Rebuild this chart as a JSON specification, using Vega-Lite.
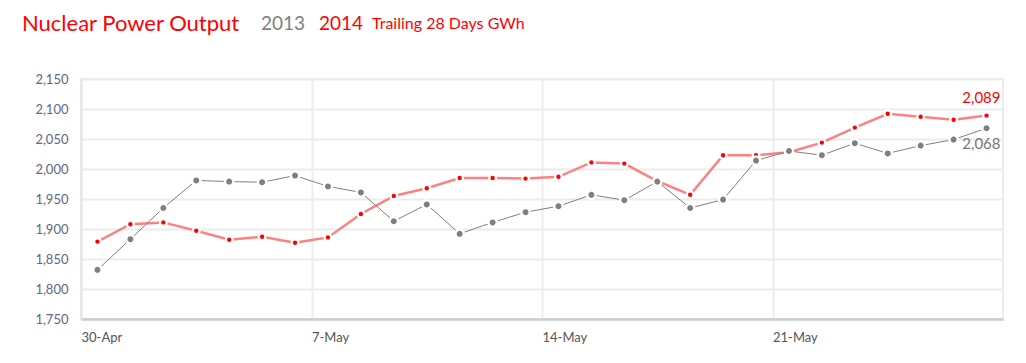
{
  "$schema": "https://vega.github.io/schema/vega-lite/v6.json",
  "autosize": {"type": "none"},
  "width": 922,
  "height": 240,
  "padding": {"left": 81, "top": 79, "right": 23, "bottom": 44},
  "background": "white",
  "title": {
    "text": "Nuclear Power Output",
    "anchor": "start",
    "frame": "group",
    "dx": -59,
    "offset": -22,
    "font": "Lato",
    "fontSize": 22,
    "fontWeight": "normal",
    "color": "#ff0000"
  },
  "config": {
    "view": {"stroke": "#ececec", "strokeWidth": 2},
    "font": "Lato"
  },
  "datasets": {
    "output": [
      {"date": "2014-04-30T12:00:00", "year": "2014", "value": 1879},
      {"date": "2014-05-01T12:00:00", "year": "2014", "value": 1908},
      {"date": "2014-05-02T12:00:00", "year": "2014", "value": 1911},
      {"date": "2014-05-03T12:00:00", "year": "2014", "value": 1897},
      {"date": "2014-05-04T12:00:00", "year": "2014", "value": 1882},
      {"date": "2014-05-05T12:00:00", "year": "2014", "value": 1887},
      {"date": "2014-05-06T12:00:00", "year": "2014", "value": 1877},
      {"date": "2014-05-07T12:00:00", "year": "2014", "value": 1886},
      {"date": "2014-05-08T12:00:00", "year": "2014", "value": 1925},
      {"date": "2014-05-09T12:00:00", "year": "2014", "value": 1955},
      {"date": "2014-05-10T12:00:00", "year": "2014", "value": 1968},
      {"date": "2014-05-11T12:00:00", "year": "2014", "value": 1985},
      {"date": "2014-05-12T12:00:00", "year": "2014", "value": 1985},
      {"date": "2014-05-13T12:00:00", "year": "2014", "value": 1984},
      {"date": "2014-05-14T12:00:00", "year": "2014", "value": 1987},
      {"date": "2014-05-15T12:00:00", "year": "2014", "value": 2011},
      {"date": "2014-05-16T12:00:00", "year": "2014", "value": 2009},
      {"date": "2014-05-17T12:00:00", "year": "2014", "value": 1980},
      {"date": "2014-05-18T12:00:00", "year": "2014", "value": 1957},
      {"date": "2014-05-19T12:00:00", "year": "2014", "value": 2023},
      {"date": "2014-05-20T12:00:00", "year": "2014", "value": 2023},
      {"date": "2014-05-21T12:00:00", "year": "2014", "value": 2028},
      {"date": "2014-05-22T12:00:00", "year": "2014", "value": 2044},
      {"date": "2014-05-23T12:00:00", "year": "2014", "value": 2069},
      {"date": "2014-05-24T12:00:00", "year": "2014", "value": 2092},
      {"date": "2014-05-25T12:00:00", "year": "2014", "value": 2087},
      {"date": "2014-05-26T12:00:00", "year": "2014", "value": 2082},
      {"date": "2014-05-27T12:00:00", "year": "2014", "value": 2089},
      {"date": "2014-04-30T12:00:00", "year": "2013", "value": 1832},
      {"date": "2014-05-01T12:00:00", "year": "2013", "value": 1883},
      {"date": "2014-05-02T12:00:00", "year": "2013", "value": 1935},
      {"date": "2014-05-03T12:00:00", "year": "2013", "value": 1981},
      {"date": "2014-05-04T12:00:00", "year": "2013", "value": 1979},
      {"date": "2014-05-05T12:00:00", "year": "2013", "value": 1978},
      {"date": "2014-05-06T12:00:00", "year": "2013", "value": 1989},
      {"date": "2014-05-07T12:00:00", "year": "2013", "value": 1971},
      {"date": "2014-05-08T12:00:00", "year": "2013", "value": 1961},
      {"date": "2014-05-09T12:00:00", "year": "2013", "value": 1913},
      {"date": "2014-05-10T12:00:00", "year": "2013", "value": 1941},
      {"date": "2014-05-11T12:00:00", "year": "2013", "value": 1892},
      {"date": "2014-05-12T12:00:00", "year": "2013", "value": 1911},
      {"date": "2014-05-13T12:00:00", "year": "2013", "value": 1928},
      {"date": "2014-05-14T12:00:00", "year": "2013", "value": 1938},
      {"date": "2014-05-15T12:00:00", "year": "2013", "value": 1957},
      {"date": "2014-05-16T12:00:00", "year": "2013", "value": 1948},
      {"date": "2014-05-17T12:00:00", "year": "2013", "value": 1979},
      {"date": "2014-05-18T12:00:00", "year": "2013", "value": 1935},
      {"date": "2014-05-19T12:00:00", "year": "2013", "value": 1949},
      {"date": "2014-05-20T12:00:00", "year": "2013", "value": 2014},
      {"date": "2014-05-21T12:00:00", "year": "2013", "value": 2030},
      {"date": "2014-05-22T12:00:00", "year": "2013", "value": 2023},
      {"date": "2014-05-23T12:00:00", "year": "2013", "value": 2043},
      {"date": "2014-05-24T12:00:00", "year": "2013", "value": 2026},
      {"date": "2014-05-25T12:00:00", "year": "2013", "value": 2039},
      {"date": "2014-05-26T12:00:00", "year": "2013", "value": 2049},
      {"date": "2014-05-27T12:00:00", "year": "2013", "value": 2068}
    ]
  },
  "data": {"name": "output"},
  "encoding": {
    "x": {
      "field": "date",
      "type": "temporal",
      "title": null,
      "scale": {
        "domain": [
          {"year": 2014, "month": 4, "date": 30},
          {"year": 2014, "month": 5, "date": 28}
        ]
      },
      "axis": {
        "values": [
          {"year": 2014, "month": 4, "date": 30},
          {"year": 2014, "month": 5, "date": 7},
          {"year": 2014, "month": 5, "date": 14},
          {"year": 2014, "month": 5, "date": 21}
        ],
        "format": "%-d-%b",
        "labelAlign": "left",
        "labelBaseline": "top",
        "labelFont": "Lato",
        "labelFontSize": 13,
        "labelColor": "#555555",
        "labelPadding": 12,
        "ticks": false,
        "tickSize": 0,
        "domainColor": "#cccccc",
        "domainWidth": 2.5,
        "gridColor": "#ececec",
        "gridWidth": 2
      }
    },
    "y": {
      "field": "value",
      "type": "quantitative",
      "title": null,
      "scale": {"domain": [1750, 2150], "nice": false, "zero": false},
      "axis": {
        "values": [1750, 1800, 1850, 1900, 1950, 2000, 2050, 2100, 2150],
        "format": ",.0f",
        "labelFont": "Lato",
        "labelFontSize": 13,
        "labelColor": "#66667a",
        "labelPadding": 13,
        "ticks": false,
        "tickSize": 0,
        "domainColor": "#e6e6e6",
        "domainWidth": 2,
        "gridColor": "#ececec",
        "gridWidth": 2
      }
    }
  },
  "layer": [
    {
      "transform": [{"filter": "datum.year == '2014'"}],
      "mark": {"type": "line", "color": "#ff8080", "strokeWidth": 2.5}
    },
    {
      "transform": [{"filter": "datum.year == '2013'"}],
      "mark": {"type": "line", "color": "#808080", "strokeWidth": 1}
    },
    {
      "transform": [{"filter": "datum.year == '2014'"}],
      "mark": {"type": "point", "filled": true, "size": 45, "stroke": "white", "strokeWidth": 2.3, "opacity": 1},
      "encoding": {
        "fill": {
          "field": "year",
          "type": "nominal",
          "scale": {"domain": ["2013", "2014"], "range": ["#7f7f7f", "#ff0000"]},
          "legend": {
            "orient": "none",
            "legendX": 167,
            "legendY": -65,
            "padding": 0,
            "direction": "horizontal",
            "title": "Trailing 28 Days GWh",
            "titleOrient": "right",
            "titleFont": "Lato",
            "titleFontSize": 16,
            "titleFontWeight": "normal",
            "titleColor": "#ff0000",
            "titlePadding": 9,
            "titleBaseline": "middle",
            "symbolSize": 1,
            "symbolOpacity": 0,
            "symbolStrokeWidth": 0,
            "labelOffset": -6,
            "columnPadding": 0,
            "labelFont": "Lato",
            "labelFontSize": 19,
            "labelColor": {"expr": "datum.value == '2013' ? '#808080' : '#ff0000'"}
          }
        }
      }
    },
    {
      "transform": [{"filter": "datum.year == '2013'"}],
      "mark": {"type": "point", "filled": true, "size": 70, "stroke": "white", "strokeWidth": 2.4, "opacity": 1},
      "encoding": {
        "fill": {"field": "year", "type": "nominal"}
      }
    },
    {
      "transform": [
        {"filter": "datum.year == '2014'"},
        {"filter": {"field": "date", "equal": {"year": 2014, "month": 5, "date": 27, "hours": 12}}}
      ],
      "mark": {"type": "text", "align": "right", "baseline": "middle", "dx": 14, "dy": -18, "font": "Lato", "fontSize": 15, "color": "#ff0000"},
      "encoding": {"text": {"field": "value", "type": "quantitative", "format": ",.0f"}}
    },
    {
      "transform": [
        {"filter": "datum.year == '2013'"},
        {"filter": {"field": "date", "equal": {"year": 2014, "month": 5, "date": 27, "hours": 12}}}
      ],
      "mark": {"type": "text", "align": "right", "baseline": "middle", "dx": 14, "dy": 16, "font": "Lato", "fontSize": 15, "color": "#777777"},
      "encoding": {"text": {"field": "value", "type": "quantitative", "format": ",.0f"}}
    }
  ]
}
